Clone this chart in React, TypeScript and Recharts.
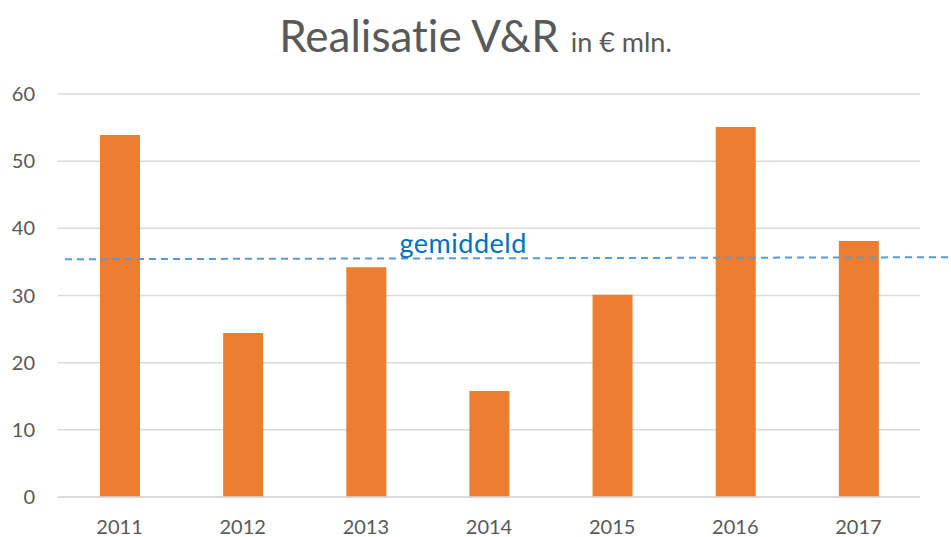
import { BarChart, Bar, XAxis, YAxis, CartesianGrid, ReferenceLine } from "recharts";

const years = ["2011", "2012", "2013", "2014", "2015", "2016", "2017"];
const amounts = [53.9, 24.4, 34.2, 15.8, 30.1, 55.1, 38.1];
const average = 35.4;
const yTicks = [0, 10, 20, 30, 40, 50, 60];

const data = years.map((year, i) => ({ year, amount: amounts[i] }));

const FONT = "Lato, 'Open Sans', sans-serif";
const GRAY = "#595959";

// dashed average line, running past the right edge of the plot
function AverageLine(props: any) {
  const { x1, y1, x2 } = props;
  return (
    <g>
      <line
        x1={x1 + 7}
        y1={y1}
        x2={951}
        y2={y1 - 2}
        stroke="#5B9BD5"
        strokeWidth={2}
        strokeDasharray="7 5"
      />
      <text
        x={x1 + (x2 - x1) * 0.47}
        y={y1 - 6}
        textAnchor="middle"
        fill="#0070C0"
        fontSize={27}
        letterSpacing={0.5}
        fontFamily={FONT}
      >
        gemiddeld
      </text>
    </g>
  );
}

function App() {
  return (
    <div style={{ position: "absolute", left: 0, top: 0, width: 951, height: 537, background: "#fff" }}>
      <div
        style={{
          position: "absolute",
          left: 0,
          top: 9,
          width: 951,
          textAlign: "center",
          fontFamily: FONT,
          color: GRAY,
          whiteSpace: "nowrap",
          fontVariantLigatures: "none",
        }}
      >
        <span style={{ fontSize: 44 }}>Realisatie V&amp;R</span>
        <span style={{ fontSize: 27, marginLeft: 12 }}>in € mln.</span>
      </div>
      <BarChart
        width={951}
        height={537}
        data={data}
        margin={{ top: 94, right: 31, bottom: 0, left: 0 }}
        barSize={40}
      >
        <CartesianGrid vertical={false} stroke="#D9D9D9" strokeWidth={1.5} />
        <XAxis
          dataKey="year"
          height={40}
          tickLine={false}
          axisLine={{ stroke: "#D9D9D9", strokeWidth: 1.5 }}
          tickMargin={17}
          tick={{ fill: GRAY, fontSize: 20, fontFamily: FONT }}
        />
        <YAxis
          width={58}
          domain={[0, 60]}
          ticks={yTicks}
          tickLine={false}
          axisLine={false}
          tickMargin={17}
          tick={{ fill: GRAY, fontSize: 20, fontFamily: FONT }}
        />
        <Bar dataKey="amount" fill="#ED7D31" isAnimationActive={false} />
        <ReferenceLine y={average} ifOverflow="visible" shape={AverageLine} />
      </BarChart>
    </div>
  );
}

export default App;
